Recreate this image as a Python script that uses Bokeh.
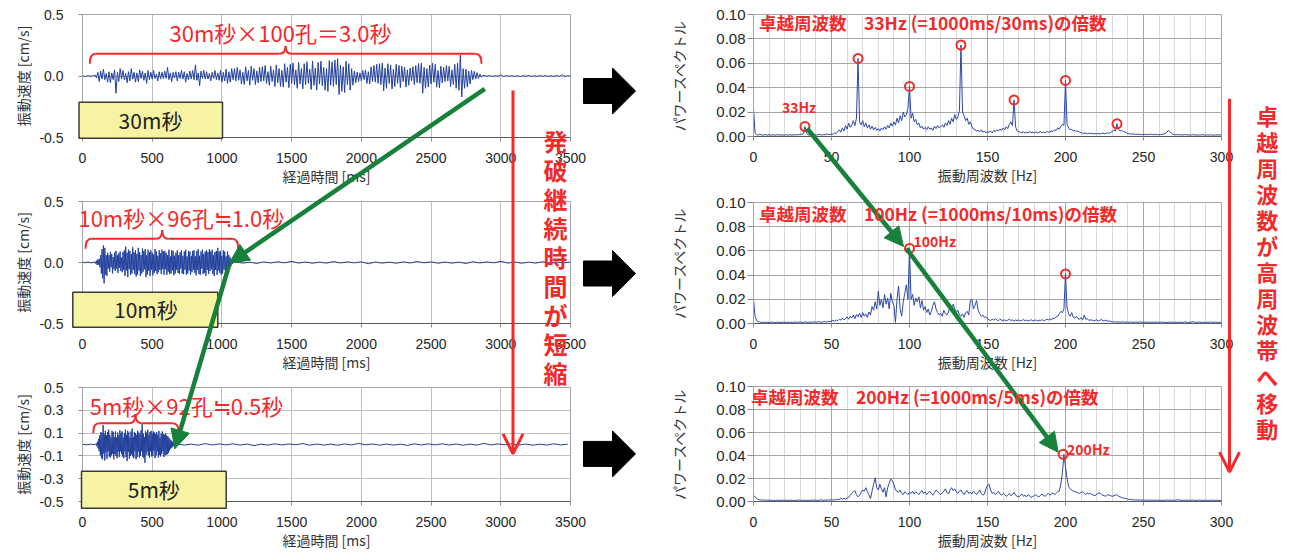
import numpy as np
from bokeh.plotting import figure
from bokeh.layouts import row, column
from bokeh.models import (Range1d, FixedTicker, NumeralTickFormatter, Label, Arrow,
                          NormalHead, OpenHead)
from bokeh.embed import file_html
from bokeh.resources import INLINE
from bokeh.core.properties import value

# ------------------------------------------------------------------ data
wave_xticks = [0, 500, 1000, 1500, 2000, 2500, 3000, 3500]
wave_yticks_top = [-0.5, 0.0, 0.5]
wave_yticks_mid = [-0.5, 0.0, 0.5]
wave_yticks_bot = [-0.5, -0.3, -0.1, 0.1, 0.3, 0.5]
spec_xticks = [0, 50, 100, 150, 200, 250, 300]
spec_xminor = [10, 20, 30, 40, 60, 70, 80, 90, 110, 120, 130, 140, 160, 170, 180, 190,
               210, 220, 230, 240, 260, 270, 280, 290]
spec_yticks = [0.0, 0.02, 0.04, 0.06, 0.08, 0.10]

# velocity waveforms, in units of 0.001 cm/s ; (start ms, step ms) per segment
top_pre = [2, -3, 2, -2, 3]                       # t = 0 .. step 20
top_act = [                                        # t = 90 .. step 10
    8, -15, 30, -45, 40, -25, 55, -30, 20, -50,
    35, -55, 25, -30, 50, -140, 30, -45, 60, -25,
    45, -30, 20, -55, 35, -40, 60, -25, 30, -50,
    25, -45, 50, -20, 40, -35, 25, -60, 45, -30,
    30, -25, 45, -20, 15, -40, 35, -25, 30, -20,
    40, -20, 70, -30, 25, -45, 30, -15, 35, -40,
    30, -20, 45, -25, 35, -50, 20, -30, 40, -25,
    45, -30, 90, -35, 25, -80, 40, -20, 45, -25,
    35, -25, 20, -40, 30, -20, 45, -30, 25, -35,
    45, -50, 30, -40, 55, -60, 35, -50, 60, -30,
    60, -40, 70, -35, 50, -65, 30, -70, 75, -40,
    45, -75, 80, -35, 60, -70, 40, -55, 70, -45,
    75, -40, 85, -60, 35, -75, 80, -45, 50, -85,
    90, -55, 60, -85, 45, -90, 100, -50, 70, -95,
    95, -60, 105, -70, 50, -100, 110, -65, 60, -105,
    100, -70, 115, -60, 55, -110, 120, -75, 65, -115,
    110, -65, 120, -80, 70, -115, 60, -125, 125, -75,
    115, -85, 130, -70, 140, -150, 90, -125, 75, -135,
    120, -70, 100, -115, 60, -75, 40, -55, 30, -45,
    25, -40, 45, -30, 50, -60, 35, -65, 75, -45,
    85, -50, 95, -60, 100, -70, 105, -120, 65, -100,
    100, -60, 90, -105, 55, -85, 95, -60, 85, -95,
    80, -45, 70, -90, 50, -75, 65, -40, 75, -70,
    85, -55, 100, -60, 105, -140, 70, -100, 60, -90,
    90, -65, 105, -50, 95, -90, 45, -95, 80, -55,
    70, -45, 85, -40, 80, -85, 50, -70, 95, -100,
    105, -115, 170, -170, 60, -100, 55, -90, 40, -65,
    45, -30, 38, -25, 28, -20, 15, -10, 5]
top_tail = [3, -2, 4, -3, 2, -3, 10, -4, 3, -2, 3, -3, 2, -4, 3, -2,   # t = 2880 .. step 20
            4, -3, 2, -3, 3, -2, 4, -3, 2, -3, 3, -2, 10, -4, 3, -2]

mid_pre = [3, -2, 4, -3, 2]                        # t = 0 .. step 20
mid_act = [                                        # t = 90 .. step 5
    5, -10, 15, -20, 25, -18, 30, -40, 60, -90, 110, -130, 140, -170, 120, -100, 60, -110, 80, -50,
    60, -75, 85, -40, 70, -90, 45, -55, 80, -70, 95, -50, 60, -85, 75, -45, 90, -70, 40, -80,
    85, -60, 100, -110, 130, -65, 80, -120, 105, -55, 95, -100, 70, -90, 125, -60, 85, -95, 100, -115,
    70, -100, 120, -65, 85, -110, 60, -90, 115, -75, 95, -55, 110, -120, 60, -100, 105, -70, 85, -110,
    100, -60, 80, -105, 65, -85, 110, -70, 90, -95, 55, -80, 100, -60, 75, -95, 105, -55, 90, -100,
    95, -55, 80, -100, 60, -75, 105, -95, 50, -90, 100, -65, 95, -105, 55, -90, 80, -60, 100, -85,
    60, -95, 85, -50, 100, -90, 55, -95, 90, -60, 105, -100, 50, -90, 95, -65, 90, -100, 55, -80,
    95, -60, 100, -85, 50, -105, 95, -60, 110, -95, 55, -100, 90, -50, 105, -95, 70, -85, 90, -110,
    100, -60, 85, -95, 110, -70, 90, -55, 105, -95, 60, -110, 85, -60, 95, -100, 120, -65, 90, -85,
    95, -100, 55, -90, 100, -60, 90, -95, 50, -85, 90, -70, 60, -50, 40, -30, 20, -12, 5]
mid_tail = [4, -5, 3, -8, 5, -4, 6, -3, 10, -5, 4, -6, 3, -5, 8, -4, 5, -3, 6, -10,   # t = 1100 .. step 50
            4, -5, 3, -6, 5, -4, 8, -3, 5, -6, 4, -5, 3, -8, 6, -4, 5, -3, 10, -5,
            4, -6, 3, -5, 6, -4, 5, -3, 4]

bot_pre = [2, -3, 3, -2]                           # t = 0 .. step 30
bot_act = [                                        # t = 100 .. step 4
    10, -15, 25, -35, 50, -60, 80, -95, 110, -120, 100, -130, 170, -80, 90, -140, 120, -70, 80, -125,
    110, -60, 130, -105, 85,
    -115, 60, -95, 120, -80, 110, -130, 65, -85, 115, -100, 60, -120, 105, -65, 80, -110, 125, -60, 100,
    -85, 115, -105, 60, -120,
    100, -60, 130, -110, 85, -145, 120, -65, 105, -125, 60, -100, 115, -85, 140, -105, 65, -120, 110, -60,
    100, -130, 85, -110, 120,
    -65, 105, -115, 90, -100, 125, -60, 180, -110, 95, -120, 65, -160, 115, -90, 105, -60, 130, -95, 85,
    -115, 110, -60, 120, -105,
    95, -100, 115, -55, 105, -120, 90, -95, 110, -60, 85, -115, 120, -90, 60, -105, 95, -85, 115, -60,
    90, -110, 85, -95, 100,
    -90, 80, -85, 70, -75, 60, -55, 45, -40, 35, -30, 25, -20, 15, -10, 5]
bot_tail = [4, -5, 3, -6, 8, -4, 5, -3, 6, -5, 4, -10, 3, -5, 6, -4, 5, -3, 8, -6,   # t = 680 .. step 50
            4, -5, 3, -6, 5, -4, 10, -3, 5, -6, 4, -5, 3, -8, 6, -4, 5, -3, 6, -5,
            4, -6, 3, -5, 10, -4, 5, -3, 6, -5, 4, -6, 3, -5, 6, -4, 3]

# power spectra, units of 0.0001, 1 Hz bins from 0 Hz
spec_top = [
    230, 30, 15, 12, 18, 14, 10, 16, 13, 12,
    15, 11, 14, 13, 10, 16, 12, 14, 11, 13,
    12, 15, 10, 14, 13, 11, 16, 12, 15, 14,
    18, 16, 22, 82, 25, 14, 12, 16, 13, 15,
    14, 12, 18, 15, 11, 16, 14, 20, 17, 15,
    22, 18, 30, 25, 40, 55, 35, 70, 45, 90,
    60, 110, 75, 95, 130, 90, 150, 640, 120, 95,
    130, 80, 110, 70, 95, 60, 85, 55, 75, 50,
    65, 45, 70, 55, 80, 60, 90, 70, 110, 85,
    120, 95, 150, 110, 170, 130, 200, 160, 180, 230,
    410, 150, 190, 120, 140, 95, 110, 70, 85, 60,
    75, 55, 80, 60, 70, 50, 85, 65, 90, 70,
    80, 95, 75, 110, 90, 130, 100, 150, 120, 180,
    140, 160, 210, 750, 200, 170, 130, 150, 100, 120,
    80, 60, 55, 45, 50, 40, 55, 35, 45, 30,
    40, 35, 45, 30, 50, 40, 55, 45, 60, 50,
    70, 55, 80, 65, 100, 120, 90, 300, 80, 45,
    40, 35, 30, 38, 28, 35, 30, 40, 32, 35,
    30, 38, 28, 35, 40, 30, 36, 28, 42, 35,
    38, 45, 40, 55, 50, 70, 60, 85, 100, 90,
    460, 100, 70, 55, 60, 45, 50, 40, 45, 35,
    30, 28, 25, 30, 22, 26, 24, 28, 20, 25,
    22, 26, 20, 24, 28, 22, 25, 30, 26, 35,
    40, 55, 45, 105, 60, 45, 50, 40, 38, 30,
    25, 22, 20, 18, 22, 16, 20, 18, 15, 17,
    16, 18, 14, 17, 15, 20, 16, 14, 18, 15,
    14, 16, 18, 20, 25, 35, 50, 40, 25, 18,
    15, 14, 16, 13, 15, 12, 14, 16, 13, 12,
    14, 12, 15, 13, 11, 14, 12, 13, 15, 12,
    11, 13, 12, 14, 12, 11, 13, 12, 14, 12,
    15]
spec_mid = [
    200, 60, 25, 15, 12, 10, 8, 11, 9, 10,
    8, 10, 12, 9, 7, 10, 11, 8, 9, 12,
    10, 8, 11, 9, 12, 8, 10, 13, 9, 11,
    12, 10, 9, 14, 11, 10, 12, 9, 15, 11,
    13, 11, 15, 12, 10, 16, 14, 12, 18, 15,
    20, 25, 18, 30, 22, 35, 28, 45, 30, 40,
    55, 35, 60, 45, 70, 40, 75, 55, 85, 50,
    90, 60, 80, 50, 95, 70, 140, 110, 180, 120,
    266, 150, 200, 130, 240, 160, 210, 120, 250, 180,
    150, 10, 200, 310, 120, 60, 180, 250, 320, 200,
    620, 200, 240, 150, 210, 180, 220, 130, 190, 110,
    140, 90, 120, 70, 100, 150, 180, 120, 90, 70,
    85, 60, 110, 80, 70, 95, 140, 100, 160, 120,
    90, 110, 70, 60, 80, 50, 90, 100, 70, 190,
    200, 120, 150, 190, 110, 80, 60, 70, 50, 55,
    40, 30, 25, 35, 28, 40, 30, 22, 35, 28,
    25, 30, 22, 28, 35, 25, 30, 20, 28, 24,
    30, 22, 26, 32, 24, 28, 20, 26, 30, 22,
    25, 30, 20, 28, 24, 32, 22, 28, 35, 30,
    38, 30, 45, 40, 55, 60, 80, 100, 90, 120,
    410, 130, 80, 60, 90, 50, 45, 60, 40, 35,
    50, 30, 70, 35, 40, 25, 30, 28, 22, 26,
    30, 22, 25, 35, 20, 24, 28, 18, 22, 16,
    14, 12, 15, 11, 13, 10, 12, 14, 11, 10,
    12, 10, 13, 11, 9, 12, 10, 11, 13, 10,
    9, 11, 10, 12, 8, 10, 11, 9, 12, 10,
    10, 12, 9, 11, 10, 8, 11, 10, 12, 9,
    11, 10, 8, 12, 10, 9, 11, 13, 10, 9,
    10, 12, 15, 11, 9, 10, 12, 8, 11, 10,
    9, 11, 10, 12, 10, 9, 11, 10, 8, 10,
    10]
spec_bot = [
    55, 40, 25, 18, 15, 12, 14, 11, 13, 10,
    12, 9, 11, 10, 8, 12, 10, 9, 11, 10,
    9, 11, 8, 10, 12, 9, 10, 8, 11, 13,
    10, 9, 12, 10, 8, 11, 9, 13, 10, 12,
    11, 9, 10, 14, 12, 10, 13, 11, 15, 12,
    14, 12, 16, 15, 20, 18, 25, 20, 28, 22,
    30, 35, 55, 70, 85, 93, 60, 40, 55, 80,
    100, 90, 120, 85, 60, 25, 90, 150, 206, 120,
    100, 150, 110, 80, 120, 40, 120, 160, 195, 180,
    150, 100, 90, 80, 100, 70, 60, 85, 75, 60,
    80, 70, 90, 65, 85, 75, 60, 80, 95, 70,
    85, 60, 75, 90, 70, 55, 80, 100, 85, 70,
    60, 75, 90, 110, 80, 65, 100, 120, 95, 110,
    85, 70, 90, 100, 75, 60, 85, 95, 70, 80,
    65, 90, 75, 60, 80, 100, 70, 55, 65, 110,
    140, 150, 100, 70, 80, 60, 75, 90, 65, 55,
    70, 60, 45, 55, 70, 50, 60, 80, 55, 45,
    40, 50, 65, 45, 55, 40, 60, 50, 35, 45,
    50, 60, 45, 40, 55, 65, 50, 45, 60, 70,
    55, 65, 75, 60, 70, 85, 90, 150, 250, 410,
    300, 200, 130, 110, 100, 90, 85, 80, 75, 70,
    80, 85, 70, 60, 75, 65, 70, 60, 55, 50,
    65, 70, 75, 60, 55, 50, 45, 60, 55, 50,
    45, 50, 55, 60, 45, 40, 35, 30, 28, 25,
    20, 18, 16, 15, 14, 13, 12, 14, 13, 12,
    11, 12, 10, 13, 11, 12, 10, 11, 12, 10,
    11, 10, 12, 9, 11, 13, 10, 12, 11, 10,
    12, 11, 15, 12, 10, 11, 9, 12, 10, 11,
    10, 12, 11, 9, 10, 11, 12, 10, 9, 11,
    10, 9, 11, 10, 12, 10, 9, 11, 10, 9,
    10]

# circled harmonic peaks
peak_top_f = [33, 67, 100, 133, 167, 200, 233]
peak_top_v = [0.0082, 0.064, 0.041, 0.075, 0.030, 0.046, 0.0104]
peak_mid_f = [100, 200]
peak_mid_v = [0.062, 0.041]
peak_bot_f = [198.5]
peak_bot_v = [0.041]

# ------------------------------------------------------------------ styling helpers
W, H = 1290, 552
RED = "#F22A2A"
GREEN = "#17803A"
WAVE = "#22409C"
SPEC = "#2C48A4"
TICKF = "Liberation Sans"
JPF = "Noto Sans CJK JP"

# layout tiles (x0, y0, w, h)
COLX = [0, 658]
COLW = [658, 632]
ROWY = [0, 188, 374]
ROWH = [188, 186, 178]


def seg(start, step, vals):
    return [start + step * i for i in range(len(vals))]


def wave(pre, pre_s, pre_d, act, act_s, act_d, tail, tail_s, tail_d):
    t = seg(pre_s, pre_d, pre) + seg(act_s, act_d, act) + seg(tail_s, tail_d, tail)
    v = np.array(pre + act + tail, dtype=float) / 1000.0
    return t, v


def base_fig(tile, frame, xr, yr):
    x0, y0, w, h = tile
    L, R, T, B = frame
    p = figure(width=w, height=h, output_backend="svg", toolbar_location=None,
               x_range=xr, y_range=yr,
               min_border_left=L - x0, min_border_right=x0 + w - R,
               min_border_top=T - y0, min_border_bottom=y0 + h - B)
    p.background_fill_color = "white"
    p.border_fill_color = "white"
    p.outline_line_color = "#A6A6A6"
    for ax in (p.xaxis[0], p.yaxis[0]):
        ax.major_label_text_font = TICKF
        ax.major_label_text_color = "#262626"
        ax.axis_label_text_font = JPF
        ax.axis_label_text_font_style = "normal"
        ax.axis_label_text_color = "#333333"
        ax.minor_tick_line_color = None
        ax.major_tick_in = 0
        ax.major_tick_line_color = "#8C8C8C"
    p.xaxis.axis_line_color = "#595959"
    p.yaxis.axis_line_color = "#A6A6A6"
    p.xaxis.major_tick_out = 4
    p.xaxis.major_label_standoff = 11
    p.xaxis.major_label_text_font_size = "14px"
    p.xaxis.axis_label_text_font_size = "14px"
    p.xaxis.axis_label_standoff = 0
    return p


def wave_fig(tile, frame, yticks, t, v):
    p = base_fig(tile, frame, Range1d(0, 3500), Range1d(-0.5, 0.5))
    p.line(t, v, line_color=WAVE, line_width=1)
    xt = FixedTicker(ticks=wave_xticks)
    yt = FixedTicker(ticks=yticks)
    p.xaxis.ticker = xt
    p.yaxis.ticker = yt
    p.xgrid.ticker = xt
    p.ygrid.ticker = yt
    p.grid.grid_line_color = "#BFBFBF"
    p.yaxis.formatter = NumeralTickFormatter(format="0.0")
    p.xaxis.axis_label = "経過時間 [ms]"
    p.yaxis.axis_label = "振動速度 [cm/s]"
    p.yaxis.major_tick_out = 4
    p.yaxis.major_label_standoff = 15
    p.yaxis.axis_label_standoff = 3
    p.yaxis.major_label_text_font_size = "14px"
    p.yaxis.axis_label_text_font_size = "14px"
    return p


def spec_fig(tile, frame, spec, pf, pv):
    p = base_fig(tile, frame, Range1d(0, 300), Range1d(0, 0.10))
    f = np.arange(len(spec)) * 1.0
    s = np.array(spec, dtype=float) / 10000.0
    p.line(f, s, line_color=SPEC, line_width=1)
    p.scatter(pf, pv, marker="circle", size=9, fill_alpha=0,
              line_color=RED, line_width=2)
    xt = FixedTicker(ticks=spec_xticks, minor_ticks=spec_xminor)
    yt = FixedTicker(ticks=spec_yticks)
    p.xaxis.ticker = xt
    p.yaxis.ticker = yt
    p.xgrid.ticker = xt
    p.ygrid.ticker = yt
    p.grid.grid_line_color = "#A6A6A6"
    p.xgrid.minor_grid_line_color = "#D9D9D9"
    p.yaxis.formatter = NumeralTickFormatter(format="0.00")
    p.xaxis.axis_label = "振動周波数 [Hz]"
    p.yaxis.axis_label = "パワースペクトル"
    p.yaxis.major_tick_out = 6
    p.yaxis.major_label_standoff = 2
    p.yaxis.axis_label_standoff = 24
    p.yaxis.major_label_text_font_size = "15px"
    p.yaxis.axis_label_text_font_size = "14px"
    return p


def tile(c, r):
    return (COLX[c], ROWY[r], COLW[c], ROWH[r])


# ------------------------------------------------------------------ charts
t1, v1 = wave(top_pre, 0, 20, top_act, 90, 10, top_tail, 2880, 20)
t2, v2 = wave(mid_pre, 0, 20, mid_act, 90, 5, mid_tail, 1100, 50)
t3, v3 = wave(bot_pre, 0, 30, bot_act, 100, 4, bot_tail, 680, 50)

tl = wave_fig(tile(0, 0), (78, 571, 14, 138), wave_yticks_top, t1, v1)
ml = wave_fig(tile(0, 1), (76, 572, 201, 327), wave_yticks_mid, t2, v2)
bl = wave_fig(tile(0, 2), (82, 570, 387, 508), wave_yticks_bot, t3, v3)
tr = spec_fig(tile(1, 0), (753, 1227, 14, 136), spec_top, peak_top_f, peak_top_v)
mr = spec_fig(tile(1, 1), (749, 1224, 202, 324), spec_mid, peak_mid_f, peak_mid_v)
br = spec_fig(tile(1, 2), (749, 1221, 386, 505), spec_bot, peak_bot_f, peak_bot_v)

charts = row(column(tl, ml, bl, spacing=0), column(tr, mr, br, spacing=0), spacing=0)

# ------------------------------------------------------------------ overlay of annotations (pixel space)
ov = figure(width=W, height=H, output_backend="svg", toolbar_location=None,
            x_range=Range1d(0, W), y_range=Range1d(H, 0),
            x_axis_type=None, y_axis_type=None, min_border=0,
            margin=(-H, 0, 0, 0))
ov.background_fill_alpha = 0
ov.border_fill_alpha = 0
ov.outline_line_color = None


def label(x, y, txt, size, color, bold=False, align="center"):
    ov.add_layout(Label(x=x, y=y, text=txt, text_font=JPF, text_font_size=f"{size}px",
                        text_font_style="bold" if bold else "normal", text_color=color,
                        text_align=align, text_baseline="middle"))


# yellow boxes with captions
ov.quad(left=[78.5, 72.3, 81.0], right=[222.0, 217.3, 225.7],
        top=[101.7, 291.7, 470.7], bottom=[137.7, 326.7, 507.7],
        fill_color="#F6F3A2", line_color="#3A3A3A", line_width=1.5)
label(150, 119.5, "30m秒", 21, "#222222")
label(145.4, 308, "10m秒", 21, "#222222")
label(153.3, 488, "5m秒", 21, "#222222")

# red duration texts
label(280, 31, "30m秒×100孔＝3.0秒", 22, RED)
label(180.8, 216, "10m秒×96孔≒1.0秒", 22, RED)
label(186, 404, "5m秒×92孔≒0.5秒", 22, RED)


# curly braces
def brace(x0, x1, xc, yb, yh, yt, r=6):
    ov.quadratic(x0=[x0, xc - r, xc, x1 - r], y0=[yb, yh, yt, yh],
                 x1=[x0 + r, xc, xc + r, x1], y1=[yh, yt, yh, yb],
                 cx=[x0, xc, xc, x1], cy=[yh, yh, yh, yh],
                 line_color=RED, line_width=2)
    ov.segment(x0=[x0 + r, xc + r], y0=[yh, yh], x1=[xc - r, x1 - r], y1=[yh, yh],
               line_color=RED, line_width=2)


brace(89.3, 481.0, 285.0, 63.3, 53.3, 45.5)
brace(85.0, 237.7, 161.7, 248.3, 238.3, 229.5)
brace(92.7, 178.3, 135.0, 432.7, 422.7, 413.5)

# black block arrows
bx, by = [], []
for cy in [90.5, 273.0, 453.4]:
    bx.append([583, 612, 612, 635, 612, 612, 583])
    by.append([cy - 12.5, cy - 12.5, cy - 23, cy, cy + 23, cy + 12.5, cy + 12.5])
ov.patches(bx, by, fill_color="black", line_color="black")

# red vertical arrows
for x, y0, y1 in [(512.5, 90, 453.3), (1229, 98.3, 471.7)]:
    ov.add_layout(Arrow(end=OpenHead(size=20, line_color=RED, line_width=3),
                        x_start=x, y_start=y0, x_end=x, y_end=y1,
                        line_color=RED, line_width=3))

# green arrows
for xs, ys, xe, ye in [(484.3, 88.3, 229.0, 262.5), (228.5, 265.0, 174.3, 448.3),
                       (806.6, 128.0, 903.0, 246.0), (905.9, 248.0, 1057.7, 451.7)]:
    ov.add_layout(Arrow(end=NormalHead(size=19, fill_color=GREEN, line_color=GREEN),
                        x_start=xs, y_start=ys, x_end=xe, y_end=ye,
                        line_color=GREEN, line_width=4.5))

# vertical texts
v1_chars = list("発破継続時間が短縮")
ov.text(x=[555] * len(v1_chars), y=[140 + 29 * i for i in range(len(v1_chars))],
        text=v1_chars, text_font=value(JPF), text_font_style="bold",
        text_font_size="24px", text_color=RED, text_align="center", text_baseline="middle")
v2_chars = list("卓越周波数が高周波帯へ移動")
ov.text(x=[1266.7] * len(v2_chars), y=[114 + 26.1 * i for i in range(len(v2_chars))],
        text=v2_chars, text_font=value(JPF), text_font_style="bold",
        text_font_size="22px", text_color=RED, text_align="center", text_baseline="middle")

# spectrum titles and peak labels
label(758.4, 22, "卓越周波数\u300033Hz (=1000ms/30ms)の倍数", 17.5, RED, bold=True, align="left")
label(758.4, 213, "卓越周波数\u3000100Hz (=1000ms/10ms)の倍数", 17.5, RED, bold=True, align="left")
label(750.4, 395.5, "卓越周波数\u3000200Hz (=1000ms/5ms)の倍数", 17.5, RED, bold=True, align="left")
label(798.6, 106.5, "33Hz", 14, RED, bold=True)
label(913.0, 240.5, "100Hz", 14, RED, bold=True, align="left")
label(1066.6, 448.0, "200Hz", 14, RED, bold=True, align="left")

root = column(charts, ov, spacing=0)

open("out.html", "w").write(file_html(root, INLINE))
